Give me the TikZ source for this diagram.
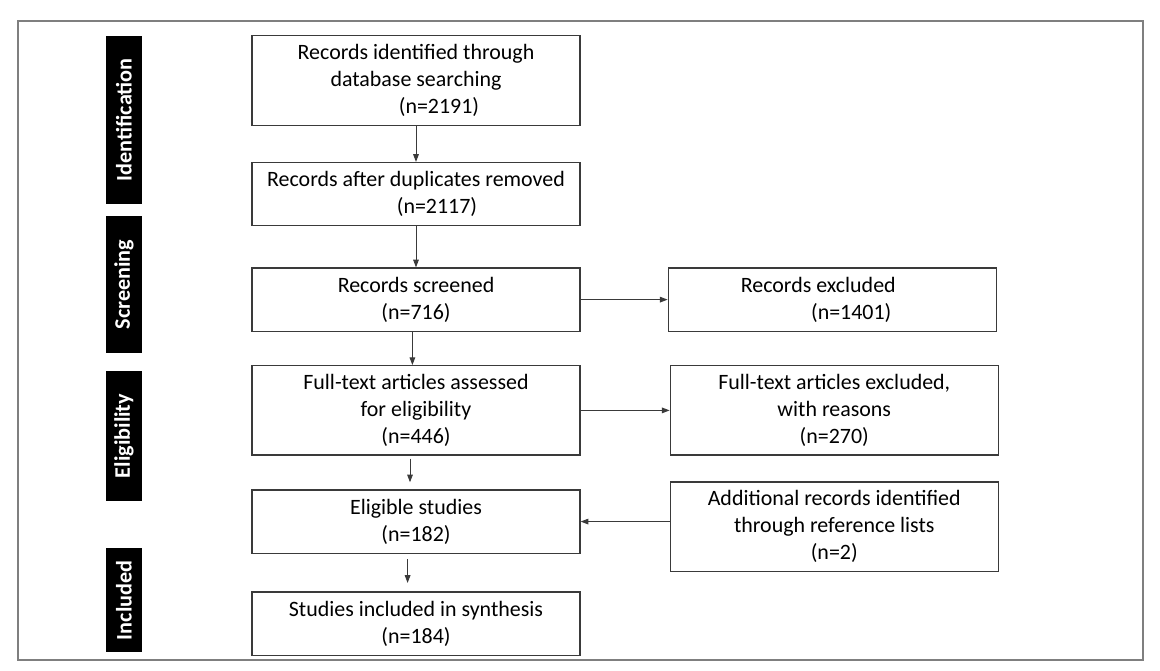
\documentclass[tikz,border=0pt]{standalone}
\usepackage{fontspec}
\setmainfont{Carlito}
\usepackage{xcolor}
\usepackage{tikz}
\usetikzlibrary{arrows.meta, positioning}
\definecolor{linegray}{HTML}{3A3A3A}
\definecolor{framegray}{HTML}{7F7F7F}
\tikzset{
  % Flow chart styles
  flowbox/.style={rectangle, draw=linegray, line width=0.9pt, fill=white, minimum width=8.2cm, minimum height=#1, align=center, inner sep=2pt, font=\fontsize{15.6}{19.2}\selectfont},
  flowbox/.default={1.58cm},
  phasebar/.style={rectangle, fill=black, text=white, rotate=90, minimum height=0.9cm, minimum width=#1, inner sep=0pt, font=\fontsize{15.8}{18}\selectfont\bfseries},
  arrow/.style={-{Triangle[length=5.5pt, width=4pt]}, line width=0.7pt, draw=linegray},
  outerframe/.style={draw=framegray, line width=1.4pt},
}

\begin{document}
\begin{tikzpicture}[node distance=0.9cm and 2.2cm]
    \useasboundingbox (0,0) rectangle (29,-16.775);

    % Outer frame
    \draw[outerframe] (0.45,-0.525) rectangle (28.575,-16.51);

    % Phase bars
    \node[phasebar=4.21cm] (idbar) at (3.1,-2.994) {Identification};
    \node[phasebar=3.425cm] (scbar) at (3.1,-7.1125) {Screening};
    \node[phasebar=3.26cm] (elbar) at (3.1,-10.9) {Eligibility};
    \node[phasebar=2.61cm] (inbar) at (3.1,-15.006) {Included};

    % Identification
    \node[flowbox=2.25cm] (identified) at (10.4,-2.0075) {Records identified through\\database searching\\\hspace*{1.15cm}(n=2191)};
    \node[flowbox, below=0.9cm of identified] (dedup) {Records after duplicates removed\\\hspace*{1.05cm}(n=2117)};

    % Screening
    \node[flowbox, below=1.025cm of dedup] (screened) {Records screened\\(n=716)};
    \node[flowbox, right=2.175cm of screened] (excluded) {Records excluded\hspace*{0.7cm}\\\hspace*{0.95cm}(n=1401)};

    % Eligibility
    \node[flowbox=2.235cm, below=0.83cm of screened] (assessed) {Full-text articles assessed\\for eligibility\\(n=446)};
    \node[flowbox=2.235cm, right=2.225cm of assessed] (ftexcluded) {Full-text articles excluded,\\with reasons\\(n=270)};
    \node[flowbox, below=0.84cm of assessed] (eligible) {Eligible studies\\(n=182)};
    \node[flowbox=2.235cm, below=0.64cm of ftexcluded] (additional) {Additional records identified\\through reference lists\\(n=2)};

    % Included
    \node[flowbox, below=0.94cm of eligible] (included) {Studies included in synthesis\\(n=184)};

% === Arrows ===
    \draw[arrow] (identified) -- (dedup);
    \draw[arrow] (dedup) -- (screened);
    \draw[arrow] ([xshift=-0.09cm]screened.south) -- ([xshift=-0.09cm]assessed.north);
    \draw[arrow, shorten <=2pt, shorten >=5pt] ([xshift=-0.15cm]assessed.south) -- ([xshift=-0.15cm]eligible.north);
    \draw[arrow, shorten <=4pt, shorten >=6pt] ([xshift=-0.21cm]eligible.south) -- ([xshift=-0.21cm]included.north);
    % Exclusions
    \draw[arrow] (screened) -- (excluded);
    \draw[arrow] (assessed) -- (ftexcluded);
    % Extra records back into eligible
    \draw[arrow] (additional.west |- eligible.east) -- (eligible);
  \end{tikzpicture}
\end{document}
